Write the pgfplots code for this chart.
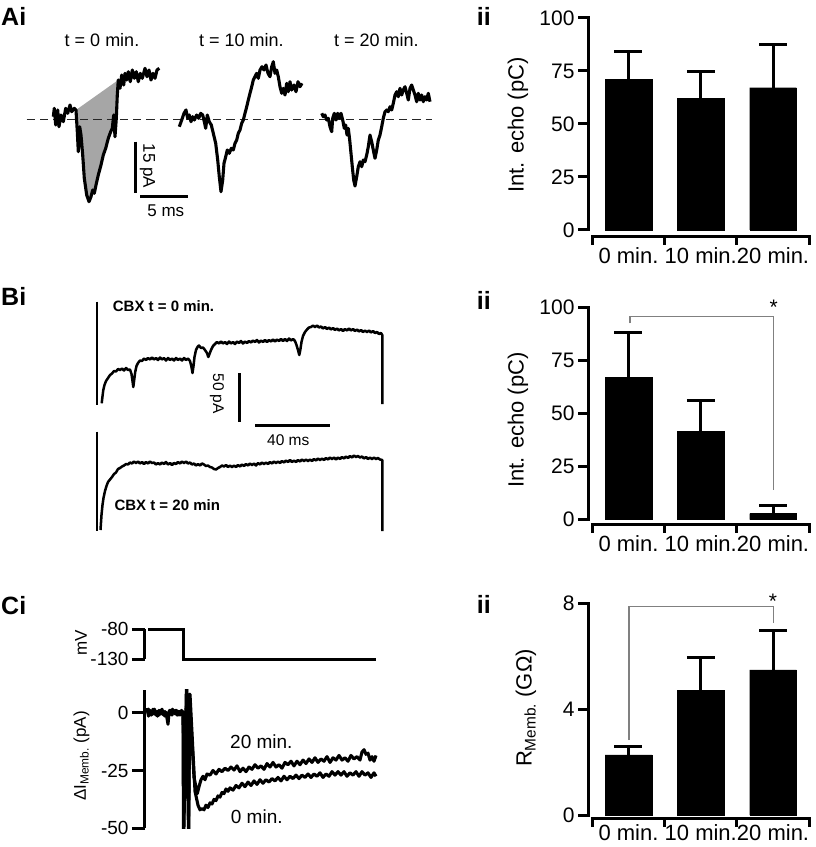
\documentclass[border=0pt]{standalone}
\usepackage{fontspec}
\setmainfont{Liberation Sans}
\usepackage{pgfplots}
\pgfplotsset{compat=1.18}
\newcommand\fT{\fontsize{18pt}{21pt}\selectfont}
\newcommand\fL{\fontsize{25pt}{30pt}\selectfont\bfseries}
\newcommand\fA{\fontsize{21pt}{25pt}\selectfont}
\newcommand\fX{\fontsize{22pt}{26pt}\selectfont}
\newcommand\fY{\fontsize{22pt}{26pt}\selectfont}
\newcommand\fB{\fontsize{15pt}{18pt}\selectfont\bfseries}
\newcommand\fS{\fontsize{15.5pt}{18pt}\selectfont}
\newcommand\fSa{\fontsize{17pt}{20pt}\selectfont}
\newcommand\fC{\fontsize{19pt}{22pt}\selectfont}
\newcommand\fCl{\fontsize{17pt}{20pt}\selectfont}
\tikzset{trace/.style={black, line width=3.1pt, line join=round},
  thintrace/.style={black, line width=2.5pt, line join=round}}
\pgfplotsset{
  barax/.style={
    anchor=south west, scale only axis, width=221.2pt,
    xmin=-0.56, xmax=2.5, clip=false,
    axis x line*=bottom, axis y line*=left, axis line style={draw=none},
    tick align=outside, major tick length=10pt,
    every tick/.style={black, line width=3pt},
    xtick={0,1,2}, xticklabels={0 min.,10 min.,20 min.},
    major x tick style={draw=none},
    xticklabel style={font=\fX, yshift=3pt},
    yticklabel style={font=\fA},
  },
  barplot/.style={ybar, bar width=46.7pt, fill=black, draw=black,
    error bars/.cd, y dir=plus, y explicit, error mark=|,
    error bar style={line width=3pt, black},
    error mark options={line width=3pt, mark size=14pt, black}},
}
\begin{document}
\begin{tikzpicture}
\useasboundingbox (0pt,0pt) rectangle (815pt,847pt);
% ================= overlay: traces and text (pixel coordinates) =================
\begin{axis}[at={(0pt,0pt)}, anchor=south west, scale only axis, width=815pt, height=847pt,
  xmin=0, xmax=815, ymin=0, ymax=847, y dir=reverse, hide axis, clip=false, no marks]
% ---- Ai ----
\addplot[fill=gray!70, draw=none] coordinates {(76,110)(77.3,131.7)(78.3,151.7)(79.7,126.7)(81,135)(82.7,155)(84.3,178.3)(86.7,195)(89,201.7)(91,196.7)(92.7,190)(94.3,193.3)(96,185)(98.3,175)(101,165)(103.3,155)(105.7,148.3)(108.3,138.3)(110.7,131.7)(112.3,128.3)(113.7,115)(115,136.7)(116.3,118.3)(117.3,95)(118.3,80)};
\addplot[black!85, line width=1.6pt, dash pattern=on 8.3pt off 5pt] coordinates {(26.7,119.3) (431.7,119.3)};
\addplot[trace] coordinates {(53.3,116.7)(54.3,108.3)(55.7,125)(57.7,110)(59,126.7)(61,115)(63.3,121.7)(65.7,108.3)(67.7,113.3)(70,105)(71.7,111.7)(74.3,108.3)(76,110)(77.3,131.7)(78.3,151.7)(79.7,126.7)(81,135)(82.7,155)(84.3,178.3)(86.7,195)(89,201.7)(91,196.7)(92.7,190)(94.3,193.3)(96,185)(98.3,175)(101,165)(103.3,155)(105.7,148.3)(108.3,138.3)(110.7,131.7)(112.3,128.3)(113.7,115)(115,136.7)(116.3,118.3)(117.3,95)(118.3,80)(120,88.3)(121.7,75)(123.7,85)(125,73.3)(126.7,80)(128.3,71.7)(130.3,81.7)(132.3,70)(134.3,78.3)(136.3,71.7)(138.3,81.7)(140.3,73.3)(142.3,78.3)(145,68.3)(147,76.7)(149,70)(151,80)(153,73.3)(155,78.3)(157,70)(159.3,68.3)};
\addplot[trace] coordinates {(179.3,126.7)(181.7,120)(184,113.3)(186,110)(187.7,118.3)(189.3,115)(191,121.7)(192.7,116.7)(194.3,120)(196.7,115)(198.7,118.3)(200.7,113.3)(202.7,115)(204.3,121.7)(205.7,128.3)(207.3,115)(209.3,121.7)(211.3,125)(213.3,133.3)(215.7,143.3)(217.7,160)(219.3,176.7)(221,191.7)(222.7,180)(224,163.3)(225.7,156.7)(227.3,150)(229.3,153.3)(231.3,148.3)(233.3,150)(235,143.3)(236.7,140)(238.3,133.3)(240,130)(241.7,123.3)(243.3,120)(245,113.3)(246.7,106.7)(248.3,100)(250,93.3)(251.7,86.7)(253.3,80)(255,76.7)(256.7,73.3)(258.3,78.3)(260,70)(262,66.7)(264,70)(266,65)(268,73.3)(270,76.7)(271.7,66.7)(273.3,61.7)(275,73.3)(276.7,70)(278.3,76.7)(280,86.7)(281.7,93.3)(283.3,88.3)(285,95)(286.7,83.3)(288.3,91.7)(290,81.7)(291.7,90)(294,85)(296,91.7)(298,81.7)(300,86.7)(302,83.3)};
\addplot[trace] coordinates {(321.7,113.3)(323.3,116.7)(325,115)(326.7,120)(328.3,118.3)(330,126.7)(331.7,131.7)(332.7,118.3)(334.3,113.3)(336,120)(337.7,113.3)(339.3,118.3)(341,113.3)(342.7,120)(344.3,128.3)(345.7,125)(347,135)(348.3,128.3)(349.7,140)(351,153.3)(352.3,166.7)(353.7,180)(355,186)(356.7,176.7)(358.3,166.7)(360,161.7)(361.7,166.7)(363.3,160)(365,161.7)(366.7,155)(368.3,146.7)(370,135)(371.7,141.7)(373.3,150)(375,158.3)(376.7,150)(378.3,140)(380,135)(381.7,126.7)(383.3,118.3)(385,111.7)(386.7,110)(388.3,111.7)(390,106.7)(391.7,110)(393.3,103.3)(395,95)(396.7,91.7)(398.3,96.7)(400,88.3)(401.7,95)(403.3,90)(405,86.7)(406.7,93.3)(408.3,100)(410,88.3)(411.7,85)(413.3,90)(415,95)(416.7,101.7)(418.3,93.3)(420,100)(421.7,95)(423.3,101.7)(425,96.7)(426.7,100)(428.3,93.3)(430,101.7)};
\addplot[black, line width=3pt] coordinates {(135,141.7)(135,193.3)};
\addplot[black, line width=3pt] coordinates {(140,196.7)(188.3,196.7)};
\node[anchor=west, inner sep=0pt, font=\fL] at (axis cs:1,16) {Ai};
\node[anchor=base, inner sep=0pt, font=\fT] at (axis cs:102,46.5) {t = 0 min.};
\node[anchor=base, inner sep=0pt, font=\fT] at (axis cs:241.3,46.5) {t = 10 min.};
\node[anchor=base, inner sep=0pt, font=\fT] at (axis cs:376.3,46.5) {t = 20 min.};
\node[rotate=-90, inner sep=0pt, font=\fSa] at (axis cs:147.5,165.8) {15 pA};
\node[anchor=base, inner sep=0pt, font=\fSa] at (axis cs:165.8,216.5) {5 ms};
% ---- Bi ----
\addplot[black, line width=2.5pt] coordinates {(97,301.7)(97,405)};
\addplot[black, line width=2.5pt] coordinates {(97,431.7)(97,531)};
\addplot[thintrace] coordinates {(101.7,403.3)(102.3,398)(103.3,390)(104.5,385)(106,381)(108,378)(110,375)(112,373.5)(114,371)(116,371.5)(118,369)(120,370)(122,368.5)(124,370.5)(126,368)(128,370)(130,369.5)(131.5,374)(132.5,381)(133.3,387)(134.2,380)(135.2,372)(136.5,366)(138,363)(140,360.5)(142,361)(144,358.5)(146,360)(148,358)(150,359.5)(152,357.5)(154,359.5)(156,358)(158,360)(160,357.5)(162,359.5)(164,358)(166,360.5)(168,358)(170,360)(172,358.5)(174,360.5)(176,358)(178,360)(180,358.5)(182,360.5)(184,358)(186,360)(188,358.5)(190,361)(191.3,366)(192.5,373)(193.5,366)(194.5,357)(196,350)(197.5,347)(199,345.5)(201,348)(203,347.5)(205,350)(207,353)(208.3,357)(209.5,354)(211,350)(213,346)(215,344)(217,342)(219,343.5)(221,341.5)(223,343.5)(225,342)(227,344)(229,341.5)(231,343.5)(233,342)(235,344)(237,341.5)(239,343)(241,341)(243,343.5)(245,341.5)(247,343)(249,341)(251,342.5)(253,340.5)(255,342)(257,340)(259,342.5)(261,340.5)(263,342)(265,340)(267,342)(269,340)(271,341.5)(273,339.5)(275,341.5)(277,339.5)(279,341)(281,339)(283,341)(285,339)(287,341)(289,338.5)(291,340.5)(293,339)(295,341)(296.5,345)(298,350)(299.3,355)(300.3,350)(301.5,342)(303,336)(305,332)(307,329.5)(309,327.5)(311,327)(313,325.5)(315,327)(317,325.5)(319,327.5)(321,326.5)(323,328.5)(325,327)(327,329)(329,327.5)(331,329.5)(333,328)(335,330)(337,328.5)(339,330.5)(341,329)(343,331)(345,329)(347,330.5)(349,328.5)(351,330.5)(353,329)(355,331)(357,329.5)(359,331.5)(361,330)(363,332)(365,330.5)(367,332)(369,330.5)(371,332.5)(373,331)(375,333)(377,332)(379,334)(381,333)(382.3,335)(382.3,404)};
\addplot[thintrace] coordinates {(100.5,530)(101.5,515)(102.5,505)(103.5,498)(105,491)(106.5,486)(108,482)(110,479.5)(112,477)(114,474)(116,472.5)(118,469)(120,468)(122,466.5)(124,465.5)(126,464)(128,464.5)(130,462.5)(132,463.5)(134,461.5)(136,463)(138,461.5)(140,463.5)(142,462)(144,464)(146,462)(148,463.5)(150,461.5)(152,463)(154,462.5)(156,464.5)(158,463)(160,464.5)(162,462.5)(164,464)(166,462)(168,464.5)(170,463)(172,465)(174,463)(176,464)(178,462)(180,463.5)(182,461.5)(184,463)(186,461.5)(188,463.5)(190,462.5)(192,464.5)(194,463.5)(196,465.5)(198,464)(200,465.5)(202,463.5)(204,464.5)(206,466)(208,465.5)(210,467)(212,467.5)(214,469)(216,469.5)(218,468)(220,467)(222,465.5)(224,466.5)(226,465)(228,467)(230,465.5)(232,467)(234,465.5)(236,467)(238,465)(240,466.5)(242,464.5)(244,466)(246,464)(248,465.5)(250,463.5)(252,465)(254,463.5)(256,465.5)(258,463)(260,464.5)(262,462.5)(264,464)(266,462.5)(268,464)(270,462)(272,463.5)(274,461.5)(276,463)(278,461.5)(280,463)(282,461)(284,462.5)(286,460.5)(288,462)(290,460)(292,462)(294,460.5)(296,462)(298,460)(300,461.5)(302,459.5)(304,461)(306,459.5)(308,461)(310,459.5)(312,461)(314,459)(316,460.5)(318,458.5)(320,460)(322,458.5)(324,460)(326,458)(328,459.5)(330,457.5)(332,459)(334,457.5)(336,459.5)(338,457.5)(340,459)(342,457)(344,458.5)(346,456.5)(348,458)(350,456)(352,457.5)(354,455.5)(356,457)(358,456)(360,457.5)(362,456.5)(364,458.5)(366,457)(368,459)(370,457.5)(372,459)(374,457.5)(376,459)(378,458)(380,459.5)(382.3,460)(382.3,531)};
\addplot[black, line width=3pt] coordinates {(239,373.3)(239,421.7)};
\addplot[black, line width=3pt] coordinates {(255,425)(330,425)};
\node[anchor=west, inner sep=0pt, font=\fL] at (axis cs:1,296) {Bi};
\node[anchor=base west, inner sep=0pt, font=\fB] at (axis cs:112.7,311.7) {CBX t = 0 min.};
\node[anchor=base west, inner sep=0pt, font=\fB] at (axis cs:114.3,510.7) {CBX t = 20 min};
\node[rotate=-90, inner sep=0pt, font=\fS] at (axis cs:217,393.7) {50 pA};
\node[anchor=base, inner sep=0pt, font=\fS] at (axis cs:288.3,445) {40 ms};
% ---- Ci text ----
\node[anchor=west, inner sep=0pt, font=\fL] at (axis cs:1,606) {Ci};
\node[rotate=90, inner sep=0pt, font=\fCl] at (axis cs:81,643) {mV};
\node[rotate=90, inner sep=0pt, font=\fCl] at (axis cs:81.5,756) {ΔI\textsubscript{Memb.} (pA)};
\node[anchor=base west, inner sep=0pt, font=\fC] at (axis cs:230,748.3) {20 min.};
\node[anchor=base west, inner sep=0pt, font=\fC] at (axis cs:230.7,823.3) {0 min.};
% ---- ii labels ----
\node[anchor=west, inner sep=0pt, font=\fL] at (axis cs:476.7,16.7) {ii};
\node[anchor=west, inner sep=0pt, font=\fL] at (axis cs:476.7,300.8) {ii};
\node[anchor=west, inner sep=0pt, font=\fL] at (axis cs:476.7,604) {ii};
\node[rotate=90, inner sep=0pt, font=\fY] at (axis cs:518,125) {Int. echo (pC)};
\node[rotate=90, inner sep=0pt, font=\fY] at (axis cs:518,420) {Int. echo (pC)};
\node[rotate=90, inner sep=0pt, font=\fY] at (axis cs:526,708) {R\textsubscript{Memb.} (GΩ)};
\end{axis}
% ================= Ci stimulus =================
\begin{axis}[at={(145pt,187.7pt)}, anchor=south west, scale only axis, width=235pt, height=30pt,
  xmin=145, xmax=380, ymin=-130, ymax=-80, clip=false,
  axis y line=left, axis x line=none, axis line style={-, line width=3pt},
  xtick=\empty, ytick={-130,-80}, yticklabels={-130,-80},
  tick align=outside, major tick length=13pt, every tick/.style={black, line width=3pt},
  yticklabel style={font=\fC}]
\addplot[trace, line join=miter] coordinates {(148.3,-80)(183.3,-80)(183.3,-130)(376,-130)};
\end{axis}
% ================= Ci current =================
\begin{axis}[at={(145pt,18.7pt)}, anchor=south west, scale only axis, width=235pt, height=138.3pt,
  xmin=145, xmax=380, ymin=-50, ymax=9.82,
  axis y line=left, axis x line=none, axis line style={-, line width=3pt},
  xtick=\empty, ytick={-50,-25,0}, yticklabels={-50,-25,0},
  tick align=outside, major tick length=13pt, every tick/.style={black, line width=3pt},
  yticklabel style={font=\fC}]
\addplot[trace] coordinates {(147,2)(148.5,-1.5)(150,1)(151.5,-1)(153,1.5)(154.5,-0.5)(156,0.5)(157.5,-1.5)(159,1)(160.5,-0.5)(162,1.5)(163.5,-1)(165,0.5)(166.5,-1)(168,-5)(169,0)(170.5,1)(172,-1)(173.5,1)(175,-0.5)(176.5,1)(178,-1)(179.5,0.5)(181,-0.5)(182.5,0.5)(183.2,0)(183.8,-53)(186.5,13)(188.5,-53)(190,8)(195,-34)(198,-40)(200,-42)(202,-41.5)(204,-42)(206,-40)(208,-41)(210,-39)(212,-39.5)(214,-37.5)(216,-38)(218,-36)(220,-36.5)(222,-34.5)(224,-35)(226,-33)(228,-34)(230,-32.5)(233,-33.5)(236,-31.5)(239,-32.5)(242,-30.5)(245,-32)(248,-30)(251,-31.5)(254,-29.5)(257,-31)(260,-29)(263,-30.5)(266,-29)(269,-30)(272,-28.5)(275,-29.5)(278,-28)(281,-29.5)(284,-27.5)(287,-29)(290,-27.5)(293,-28.5)(296,-27)(299,-28.5)(302,-27)(305,-28)(308,-26.5)(311,-28)(314,-26.5)(317,-27.5)(320,-26)(323,-28)(326,-26.5)(329,-27.5)(332,-25.5)(335,-27)(338,-25.5)(341,-27)(344,-25.5)(347,-27.5)(350,-26)(353,-27)(356,-25.5)(359,-27.5)(362,-25.5)(365,-27)(368,-26)(371,-28)(374,-26)(376,-27.5)};
\addplot[trace] coordinates {(147,0.5)(148.5,1.5)(150,-1)(151.5,0.5)(153,-0.5)(154.5,1.5)(156,-1)(157.5,0.5)(159,-1)(160.5,1)(162,-0.5)(163.5,0.5)(165,-1.5)(166.5,0)(168,-3)(169.5,1)(171,-0.5)(172.5,1.5)(174,0)(175.5,1)(177,-1)(178.5,0.5)(180,-1)(181.5,1)(183,0)(183.5,-53)(186.8,13)(188.8,-53)(189.4,8)(194,-28)(197.3,-35)(199,-32)(201,-29)(203,-27.5)(205,-29)(207,-26.5)(210,-27)(213,-25)(216,-26.5)(219,-24.5)(222,-25.5)(225,-24)(228,-25)(231,-23.5)(234,-24.8)(237,-23)(240,-25.5)(243,-24)(246,-25.5)(249,-23.5)(252,-24.5)(255,-22.5)(258,-24)(261,-23)(264,-24.5)(267,-22)(270,-23.5)(273,-21.5)(276,-23.5)(279,-22.5)(282,-24)(285,-21.5)(288,-22.5)(291,-21)(294,-23)(297,-21)(300,-22.5)(303,-20.5)(306,-22)(309,-20)(312,-21.5)(315,-19.5)(318,-21.5)(321,-20)(324,-21)(327,-19)(330,-21.5)(333,-19.5)(336,-20.5)(339,-18.5)(342,-20.5)(345,-19.5)(348,-21)(351,-18.5)(354,-20)(357,-19)(360,-20.5)(362,-17)(364,-16)(366,-18)(368,-17.5)(370,-20.5)(372,-19)(374,-21)(376,-18.5)};
\end{axis}
% ================= Aii =================
\begin{axis}[barax, at={(588pt,610.3pt)}, height=218.7pt, ymin=-3.16, ymax=100,
  ytick={0,25,50,75,100}, yticklabels={0,25,50,75,100}]
\addplot[barplot] coordinates {(0,71.2) +- (0,12.9) (1,62.1) +- (0,12.6) (2,67.1) +- (0,20.2)};
\draw[line width=3pt, line cap=rect] (axis cs:-0.56,0) -- (axis cs:-0.56,100);
\draw[line width=3pt, line cap=rect] (axis cs:-0.5,-3.16) -- (axis cs:2.5,-3.16);
\draw[line width=3pt] (axis cs:-0.5,-3.16) -- ++(0pt,-8.3pt);
\draw[line width=3pt] (axis cs:0.5,-3.16) -- ++(0pt,-8.3pt);
\draw[line width=3pt] (axis cs:1.5,-3.16) -- ++(0pt,-8.3pt);
\draw[line width=3pt] (axis cs:2.5,-3.16) -- ++(0pt,-8.3pt);
\end{axis}
% ================= Bii =================
\begin{axis}[barax, at={(588pt,322.2pt)}, height=217.1pt, ymin=-2.5, ymax=100,
  ytick={0,25,50,75,100}, yticklabels={0,25,50,75,100}]
\addplot[barplot] coordinates {(0,67.1) +- (0,21.0) (1,41.7) +- (0,14.7) (2,2.8) +- (0,4.0)};
\draw[line width=3pt, line cap=rect] (axis cs:-0.56,0) -- (axis cs:-0.56,100);
\draw[line width=3pt, line cap=rect] (axis cs:-0.5,-2.5) -- (axis cs:2.5,-2.5);
\draw[line width=3pt] (axis cs:-0.5,-2.5) -- ++(0pt,-8.3pt);
\draw[line width=3pt] (axis cs:0.5,-2.5) -- ++(0pt,-8.3pt);
\draw[line width=3pt] (axis cs:1.5,-2.5) -- ++(0pt,-8.3pt);
\draw[line width=3pt] (axis cs:2.5,-2.5) -- ++(0pt,-8.3pt);
\draw[gray, line width=1.2pt] (axis cs:0.02,92.6) -- (axis cs:0.02,96) -- (axis cs:2.01,96) -- (axis cs:2.01,13.8);
\node[anchor=base, inner sep=0pt, font=\fA] at (axis cs:2.01,96.8) {*};
\end{axis}
% ================= Cii =================
\begin{axis}[barax, at={(588pt,28.5pt)}, height=215.2pt, ymin=-0.132, ymax=8,
  ytick={0,4,8}, yticklabels={0,4,8}, xticklabel style={yshift=4.5pt}]
\addplot[barplot] coordinates {(0,2.27) +- (0,0.31) (1,4.70) +- (0,1.24) (2,5.48) +- (0,1.49)};
\draw[line width=3pt, line cap=rect] (axis cs:-0.56,0) -- (axis cs:-0.56,8);
\draw[line width=3pt, line cap=rect] (axis cs:-0.5,-0.132) -- (axis cs:2.5,-0.132);
\draw[line width=3pt] (axis cs:-0.5,-0.132) -- ++(0pt,-8.3pt);
\draw[line width=3pt] (axis cs:0.5,-0.132) -- ++(0pt,-8.3pt);
\draw[line width=3pt] (axis cs:1.5,-0.132) -- ++(0pt,-8.3pt);
\draw[line width=3pt] (axis cs:2.5,-0.132) -- ++(0pt,-8.3pt);
\draw[gray, line width=1.2pt] (axis cs:0.007,2.83) -- (axis cs:0.007,7.87) -- (axis cs:2.01,7.87) -- (axis cs:2.01,7.24);
\node[anchor=base, inner sep=0pt, font=\fA] at (axis cs:2.0,7.82) {*};
\end{axis}
\end{tikzpicture}
\end{document}
